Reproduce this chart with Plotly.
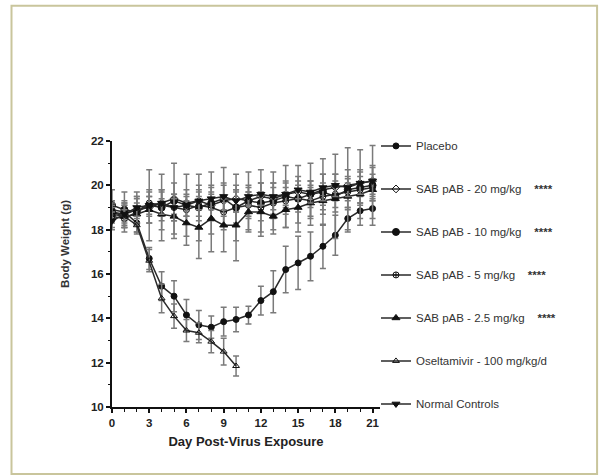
import plotly.graph_objects as go

days = list(range(22))

placebo = [18.9, 18.8, 18.3, 16.7, 15.45, 15.0, 14.15, 13.7, 13.6, 13.85, 13.95,
           14.15, 14.8, 15.2, 16.2, 16.5, 16.8, 17.25, 17.75, 18.5, 18.85, 18.95]
placebo_err = [0.4, 0.4, 0.4, 0.5, 0.65, 0.7, 0.7, 0.65, 0.5, 0.65, 0.55,
               0.4, 0.65, 0.95, 1.05, 1.2, 1.1, 1.0, 0.9, 0.5, 0.35, 0.45]

sab20 = [18.8, 18.7, 18.9, 19.0, 19.2, 19.4, 19.2, 19.3, 19.1, 19.3, 19.4,
         19.3, 19.5, 19.4, 19.6, 19.7, 19.6, 19.8, 19.9, 20.0, 20.1, 20.2]
sab20_err = [0.5, 0.6, 0.6, 0.7, 0.6, 0.7, 0.6, 0.7, 0.6, 0.7, 0.6,
             0.7, 0.6, 0.7, 0.6, 0.7, 0.6, 0.7, 0.6, 0.7, 0.6, 0.7]

sab10 = [19.1, 18.9, 18.8, 19.1, 19.0, 19.3, 19.1, 19.0, 19.2, 19.4, 19.0,
         19.3, 19.2, 19.3, 19.5, 19.4, 19.6, 19.7, 19.5, 19.8, 19.9, 20.0]
sab10_err = [0.7, 0.8, 0.9, 1.6, 1.5, 1.7, 1.4, 1.5, 1.4, 1.4, 1.5,
             1.3, 1.5, 1.3, 1.4, 1.5, 1.4, 1.5, 1.9, 1.9, 1.7, 1.8]

sab5 = [18.6, 18.5, 18.8, 19.2, 19.1, 19.0, 18.9, 19.1, 19.0, 18.8, 19.0,
        19.1, 19.0, 19.2, 19.3, 19.4, 19.3, 19.5, 19.6, 19.7, 19.8, 19.9]
sab5_err = [0.5, 0.6, 0.6, 0.6, 0.7, 0.6, 0.6, 0.7, 0.6, 0.6, 0.7,
            0.6, 0.6, 0.7, 0.6, 0.6, 0.7, 0.6, 0.6, 0.7, 0.6, 0.6]

sab25 = [18.8, 18.6, 18.7, 18.9, 18.7, 18.6, 18.3, 18.1, 18.5, 18.2, 18.2,
         18.8, 18.8, 18.6, 18.9, 19.0, 19.2, 19.3, 19.4, 19.5, 19.6, 19.8]
sab25_err = [0.4, 0.5, 0.5, 0.6, 0.7, 0.8, 1.0, 1.4, 1.5, 1.2, 1.6,
             0.9, 0.9, 0.8, 0.8, 0.7, 0.7, 0.6, 0.6, 0.6, 0.5, 0.5]

osel_days = list(range(11))
osel = [18.7, 18.6, 18.2, 16.6, 14.9, 14.1, 13.45, 13.35, 12.95, 12.5, 11.85]
osel_err = [0.3, 0.3, 0.4, 0.5, 0.65, 0.55, 0.5, 0.45, 0.5, 0.6, 0.45]

normal = [18.4, 18.7, 19.0, 19.1, 19.2, 19.0, 19.1, 19.3, 19.4, 19.5, 19.3,
          19.5, 19.6, 19.5, 19.6, 19.8, 19.7, 19.9, 20.0, 19.9, 20.1, 20.2]
normal_err = [0.4, 0.5, 0.5, 0.4, 0.5, 0.6, 0.5, 0.4, 0.5, 0.6, 0.5,
              0.4, 0.5, 0.6, 0.5, 0.4, 0.5, 0.6, 0.5, 0.4, 0.5, 0.6]

x_ticks = [0, 3, 6, 9, 12, 15, 18, 21]
y_ticks = [10, 12, 14, 16, 18, 20, 22]

stars = "    <b>****</b>"
series = [
    ("Placebo", days, placebo, placebo_err, "circle", 6),
    ("SAB pAB - 20 mg/kg" + stars, days, sab20, sab20_err, "diamond-open", 6),
    ("SAB pAB - 10 mg/kg" + stars, days, sab10, sab10_err, "circle", 7),
    ("SAB pAB - 5 mg/kg" + stars, days, sab5, sab5_err, "circle-cross-open", 6),
    ("SAB pAB - 2.5 mg/kg" + stars, days, sab25, sab25_err, "triangle-up", 7),
    ("Oseltamivir - 100 mg/kg/d", osel_days, osel, osel_err, "triangle-up-open", 6),
    ("Normal Controls", days, normal, normal_err, "triangle-down", 7),
]

fig = go.Figure()
for i, (name, xs, ys, es, sym, sz) in enumerate(series):
    fig.add_trace(go.Scatter(
        x=xs, y=ys, name=name, mode="lines+markers",
        legendgroup=f"g{i}",
        line=dict(color="#2a2a2a", width=1.5),
        marker=dict(symbol=sym, size=sz, color="#111111",
                    line=dict(color="#111111", width=1)),
        error_y=dict(type="data", array=es, visible=True,
                     color="#7a7a7a", thickness=1.5, width=3),
    ))

font_family = "Liberation Sans, Arial, sans-serif"

fig.update_layout(
    width=603, height=476,
    margin=dict(l=111.7, r=223, t=140.7, b=68.7),
    paper_bgcolor="white", plot_bgcolor="white",
    font=dict(family=font_family, color="#222222"),
    showlegend=True,
    legend=dict(
        x=0.985, y=1.036, xanchor="left", yanchor="top",
        font=dict(size=11.5, color="#333333"),
        tracegroupgap=24, itemwidth=30, maxheight=440,
        bgcolor="rgba(0,0,0,0)",
    ),
    xaxis=dict(
        range=[0, 21.6], tickvals=x_ticks, ticktext=[str(v) for v in x_ticks],
        showgrid=False, zeroline=False,
        showline=True, linecolor="#111111", linewidth=2,
        ticks="outside", ticklen=4, tickwidth=1.5, tickcolor="#111111",
        minor=dict(dtick=1, ticks="outside", ticklen=2.5, tickwidth=1, tickcolor="#111111"),
        tickfont=dict(size=11.5, weight="bold", color="#222222"),
        title=dict(text="Day Post-Virus Exposure",
                   font=dict(size=13, weight="bold", color="#222222"), standoff=9),
    ),
    yaxis=dict(
        range=[10, 22], tickvals=y_ticks, ticktext=[str(v) for v in y_ticks],
        showgrid=False, zeroline=False,
        showline=True, linecolor="#111111", linewidth=2,
        ticks="outside", ticklen=4, tickwidth=1.5, tickcolor="#111111",
        minor=dict(dtick=1, ticks="outside", ticklen=2.5, tickwidth=1, tickcolor="#111111"),
        tickfont=dict(size=11.5, weight="bold", color="#222222"),
    ),
    annotations=[dict(
        text="Body Weight (g)", xref="paper", yref="paper",
        x=(64.5 - 111.7) / 268.3, y=(407.3 - 244) / 266.6,
        xanchor="center", yanchor="middle", textangle=-90, showarrow=False,
        font=dict(size=11.5, weight="bold", color="#333333"),
    )],
    shapes=[dict(
        type="rect", xref="paper", yref="paper",
        x0=-0.375, x1=1.81, y0=-0.252, y1=1.508,
        line=dict(color="#c9c59c", width=2), fillcolor="rgba(0,0,0,0)",
        layer="below",
    )],
)

fig.write_html("out.html")
